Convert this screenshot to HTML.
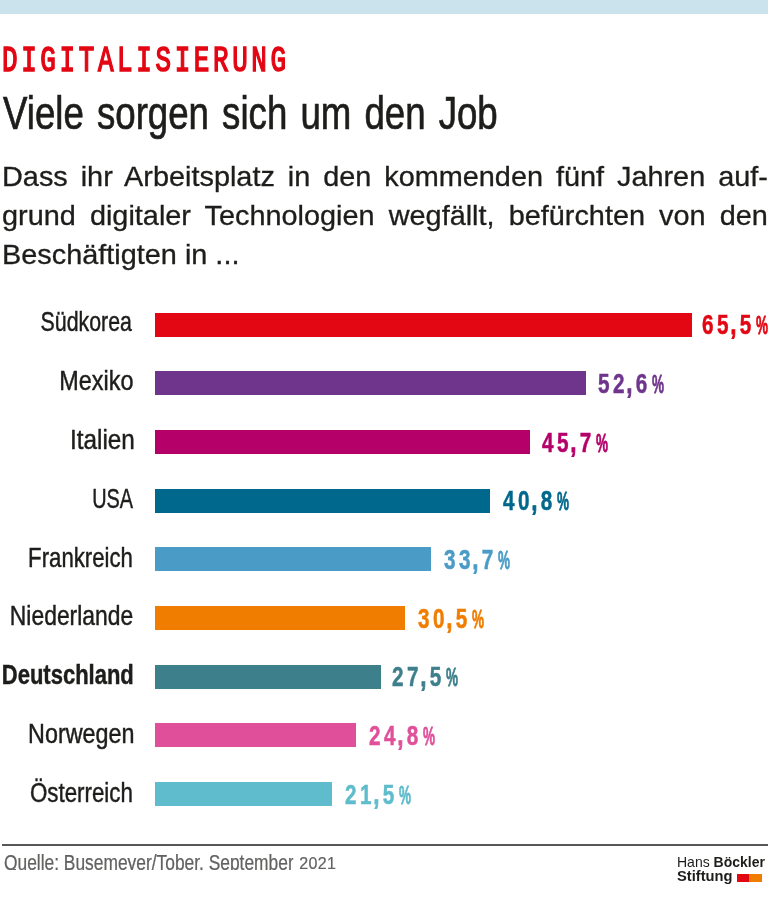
<!DOCTYPE html>
<html lang="de">
<head>
<meta charset="utf-8">
<title>Digitalisierung</title>
<style>
html,body{margin:0;padding:0;background:#fff;}
body{width:768px;height:911px;position:relative;overflow:hidden;font-family:"Liberation Sans",sans-serif;color:#1d1d1b;}
.abs{position:absolute;white-space:nowrap;line-height:1;}
.l{transform-origin:left top;}
.r{transform-origin:right top;}
#page{position:absolute;left:0;top:0;width:768px;height:911px;overflow:hidden;background:#fff;will-change:transform;}
#band{position:absolute;left:0;top:0;width:768px;height:13.5px;background:#cbe3ed;}
#kicker{left:2.3px;top:42.8px;font-family:"Liberation Mono",monospace;font-weight:normal;font-size:37px;color:#e30613;-webkit-text-stroke:1.6px #e30613;letter-spacing:5.2px;transform:scaleX(0.70);}
#title{left:2.8px;top:89.7px;font-size:46.4px;word-spacing:3.7px;transform:scaleX(0.79);-webkit-text-stroke:0.7px #1d1d1b;}
.p{left:1.9px;font-size:27.2px;width:721.5px;transform:scaleX(1.0615);-webkit-text-stroke:0.3px #1d1d1b;text-align:justify;text-align-last:justify;white-space:normal;}
.lab{right:636px;font-size:27.3px;transform:scaleX(var(--s));-webkit-text-stroke:0.45px #1d1d1b;}
.bar{position:absolute;left:155.4px;height:24.1px;}
.val{font-weight:bold;font-size:27.6px;letter-spacing:4.6px;transform:scaleX(0.75);-webkit-text-stroke:0.5px currentColor;}
.val .c{margin-left:-1.9px;-webkit-text-stroke:1.1px currentColor;}
.val .d{margin-left:-0.1px;}
.val .pc{display:inline-block;font-size:25px;letter-spacing:0;margin-left:2.2px;transform:scaleX(0.72);transform-origin:left bottom;-webkit-text-stroke:0.8px currentColor;}
#rule{position:absolute;left:2px;top:844px;width:766px;height:2px;background:#575756;}
#src{left:4.3px;top:851.7px;height:18.4px;overflow:hidden;color:#626261;font-size:21.8px;transform:scaleX(0.797);-webkit-text-stroke:0.25px #626261;}
#yr{left:299.3px;top:856.2px;height:14px;overflow:hidden;color:#626261;font-size:16px;letter-spacing:0.3px;-webkit-text-stroke:0.2px #626261;}
#qt{position:absolute;left:12.6px;top:868.6px;width:3px;height:1.3px;background:#6a6a69;}
#logo1{left:677px;top:854.6px;font-size:14.5px;color:#1d1d1b;transform:scaleX(0.966);}
#logo2{left:677.3px;top:869.1px;font-size:14.5px;font-weight:bold;color:#1d1d1b;transform:scaleX(1.013);}
#sq1{position:absolute;left:736.6px;top:873.6px;width:12.6px;height:8.2px;background:#e30613;}
#sq2{position:absolute;left:749.1px;top:873.6px;width:13px;height:8.2px;background:#f07d00;}
</style>
</head>
<body>
<div id="page">
<div id="band"></div>
<div id="kicker" class="abs l">DIGITALISIERUNG</div>
<div id="title" class="abs l">Viele sorgen sich um den Job</div>

<div class="abs l p" style="top:162.5px;">Dass ihr Arbeitsplatz in den kommenden fünf Jahren auf-</div>
<div class="abs l p" style="top:201.5px;">grund digitaler Technologien wegfällt, befürchten von den</div>
<div class="abs l p" style="top:241.1px;text-align-last:left;">Beschäftigten in ...</div>

<div class="abs r lab" style="top:308.3px;right:636.0px;--s:0.781;">Südkorea</div>
<div class="abs r lab" style="top:367.1px;right:634.7px;--s:0.857;">Mexiko</div>
<div class="abs r lab" style="top:425.9px;right:633.6px;--s:0.891;">Italien</div>
<div class="abs r lab" style="top:484.7px;right:634.8px;--s:0.729;">USA</div>
<div class="abs r lab" style="top:543.5px;right:634.6px;--s:0.813;">Frankreich</div>
<div class="abs r lab" style="top:602.3px;right:634.6px;--s:0.838;">Niederlande</div>
<div class="abs r lab" style="top:661.1px;right:634.0px;--s:0.806;font-weight:bold;">Deutschland</div>
<div class="abs r lab" style="top:719.9px;right:634.0px;--s:0.855;">Norwegen</div>
<div class="abs r lab" style="top:778.7px;right:635.0px;--s:0.818;">Österreich</div>

<div class="bar" style="top:312.7px;width:536.6px;background:#e30613;"></div>
<div class="bar" style="top:371.4px;width:430.9px;background:#6f358c;"></div>
<div class="bar" style="top:430.0px;width:374.3px;background:#b5006a;"></div>
<div class="bar" style="top:488.7px;width:334.3px;background:#00688c;"></div>
<div class="bar" style="top:547.3px;width:276.1px;background:#4a9cc7;"></div>
<div class="bar" style="top:606.0px;width:249.7px;background:#f07d00;"></div>
<div class="bar" style="top:664.7px;width:225.2px;background:#3e7f8c;"></div>
<div class="bar" style="top:723.3px;width:200.7px;background:#e0509a;"></div>
<div class="bar" style="top:782.0px;width:176.4px;background:#5fbccc;"></div>

<div class="abs l val" style="left:702.3px;top:311.3px;color:#e30613;">65<span class="c">,</span><span class="d">5</span><span class="pc">%</span></div>
<div class="abs l val" style="left:598.1px;top:370.0px;color:#6f358c;">52<span class="c">,</span><span class="d">6</span><span class="pc">%</span></div>
<div class="abs l val" style="left:541.9px;top:428.6px;color:#b5006a;">45<span class="c">,</span><span class="d">7</span><span class="pc">%</span></div>
<div class="abs l val" style="left:502.8px;top:487.3px;color:#00688c;">40<span class="c">,</span><span class="d">8</span><span class="pc">%</span></div>
<div class="abs l val" style="left:444.1px;top:545.9px;color:#4a9cc7;">33<span class="c">,</span><span class="d">7</span><span class="pc">%</span></div>
<div class="abs l val" style="left:418.1px;top:604.6px;color:#f07d00;">30<span class="c">,</span><span class="d">5</span><span class="pc">%</span></div>
<div class="abs l val" style="left:391.9px;top:663.3px;color:#3e7f8c;">27<span class="c">,</span><span class="d">5</span><span class="pc">%</span></div>
<div class="abs l val" style="left:369.2px;top:721.9px;color:#e0509a;">24<span class="c">,</span><span class="d">8</span><span class="pc">%</span></div>
<div class="abs l val" style="left:344.5px;top:780.6px;color:#5fbccc;">21<span class="c">,</span><span class="d">5</span><span class="pc">%</span></div>

<div id="rule"></div>
<div id="src" class="abs l">Quelle: Busemeyer/Tober, September</div>
<div id="yr" class="abs l">2021</div>
<div id="qt"></div>
<div id="logo1" class="abs l">Hans <b>Böckler</b></div>
<div id="logo2" class="abs l">Stiftung</div>
<div id="sq1"></div><div id="sq2"></div>
</div>
</body>
</html>
